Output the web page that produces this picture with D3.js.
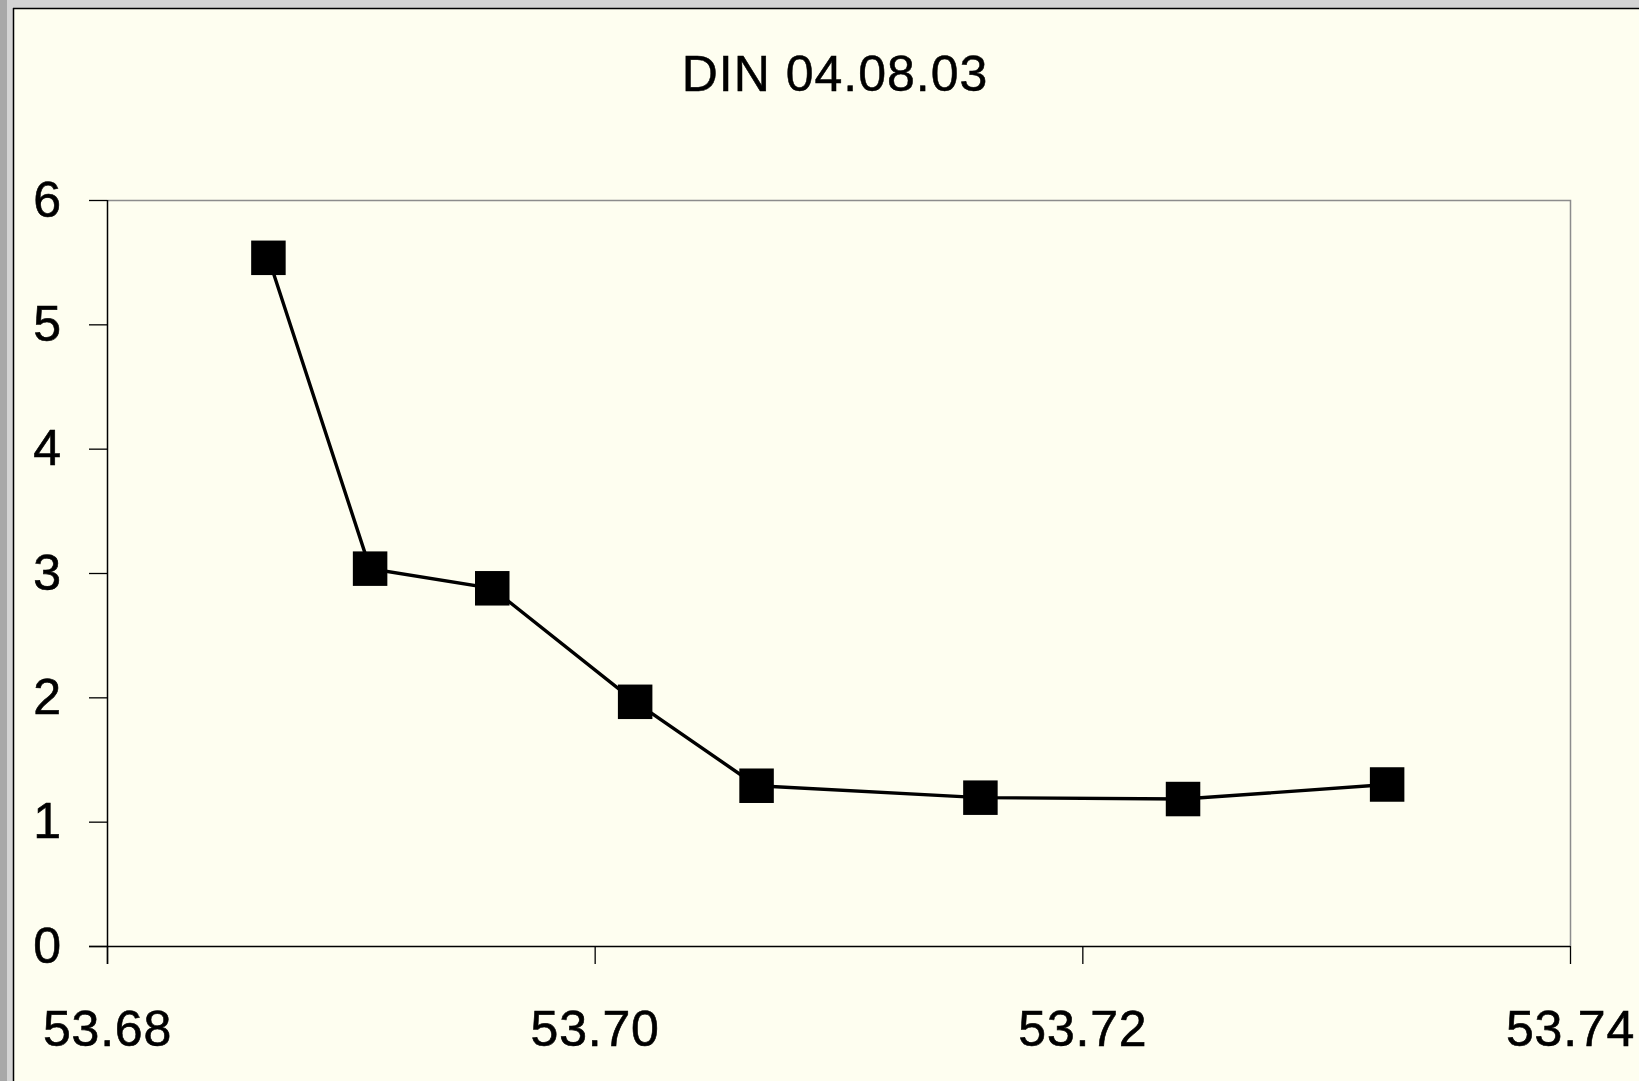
<!DOCTYPE html>
<html>
<head>
<meta charset="utf-8">
<script src="https://cdn.jsdelivr.net/npm/d3@7"></script>
<style>
  html, body { margin: 0; padding: 0; background: #ffffff; overflow: hidden; }
  svg { display: block; }
</style>
</head>
<body>
<script>
// ---- data ----
const title = "DIN 04.08.03";
const xValues = [53.68662, 53.69079, 53.69580, 53.70166, 53.70664, 53.71582, 53.72413, 53.73250];
const yValues = [5.535, 3.035, 2.877, 1.964, 1.289, 1.193, 1.182, 1.299];
const xTicks = [53.68, 53.70, 53.72, 53.74];
const yTicks = [0, 1, 2, 3, 4, 5, 6];

const W = 1639, H = 1081;
const plot = { left: 107, right: 1570, top: 200, bottom: 946 };

const svg = d3.select("body").append("svg").attr("width", W).attr("height", H);

// window chrome / background
svg.append("rect").attr("x", 0).attr("y", 0).attr("width", W).attr("height", H).attr("fill", "#d4d4d4");
svg.append("rect").attr("x", 0).attr("y", 0).attr("width", 7).attr("height", H).attr("fill", "#a8a8a8");
svg.append("rect").attr("x", 13).attr("y", 8).attr("width", W - 13).attr("height", H - 8).attr("fill", "#fefef0");
svg.append("line").attr("x1", 13.5).attr("x2", 13.5).attr("y1", 8).attr("y2", H).attr("stroke", "#000").attr("stroke-width", 1.5);
svg.append("line").attr("x1", 13).attr("x2", W).attr("y1", 8.5).attr("y2", 8.5).attr("stroke", "#000").attr("stroke-width", 1.5);

const x = d3.scaleLinear().domain([53.68, 53.74]).range([plot.left, plot.right]);
const y = d3.scaleLinear().domain([0, 6]).range([plot.bottom, plot.top]);

// plot area border (gray top/right)
svg.append("path")
  .attr("d", `M${plot.left},${plot.top + 0.5}H${plot.right + 0.5}V${plot.bottom}`)
  .attr("fill", "none").attr("stroke", "#8c8c8c").attr("stroke-width", 1.5);

const font = "'Liberation Sans', Arial, sans-serif";

// y axis
const yAxis = svg.append("g").attr("transform", `translate(${plot.left},0)`)
  .call(d3.axisLeft(y).tickValues(yTicks).tickSize(18).tickPadding(28).tickFormat(d3.format("d")));
yAxis.select(".domain").attr("stroke", "#000").attr("stroke-width", 1.5).attr("d", `M0.5,${plot.top}V${plot.bottom + 18}`);
yAxis.selectAll(".tick line").attr("stroke", "#000").attr("stroke-width", 1.3);
yAxis.selectAll(".tick text").attr("font-family", font).attr("font-size", 50).attr("fill", "#000")
  .attr("stroke", "#000").attr("stroke-width", 0.6);

// x axis
const xAxis = svg.append("g").attr("transform", `translate(0,${plot.bottom})`)
  .call(d3.axisBottom(x).tickValues(xTicks).tickSize(18).tickPadding(46).tickFormat(d3.format(".2f")));
xAxis.select(".domain").attr("stroke", "#000").attr("stroke-width", 1.5).attr("d", `M${plot.left - 18},0.5H${plot.right}`);
xAxis.selectAll(".tick line").attr("stroke", "#000").attr("stroke-width", 1.3);
xAxis.selectAll(".tick text").attr("font-family", font).attr("font-size", 50).attr("fill", "#000")
  .attr("letter-spacing", 0.8).attr("stroke", "#000").attr("stroke-width", 0.6);

// title
svg.append("text").attr("x", 835).attr("y", 91).attr("text-anchor", "middle")
  .attr("font-family", font).attr("font-size", 50).attr("letter-spacing", 1)
  .attr("fill", "#000").attr("stroke", "#000").attr("stroke-width", 0.5).text(title);

// line
const pts = xValues.map((v, i) => [v, yValues[i]]);
svg.append("path").datum(pts)
  .attr("d", d3.line().x(d => x(d[0])).y(d => y(d[1])))
  .attr("fill", "none").attr("stroke", "#000").attr("stroke-width", 3.4);

// markers
const ms = 34.5;
svg.selectAll("rect.marker").data(pts).join("rect").attr("class", "marker")
  .attr("x", d => x(d[0]) - ms / 2).attr("y", d => y(d[1]) - ms / 2)
  .attr("width", ms).attr("height", ms).attr("fill", "#000");
</script>
</body>
</html>
